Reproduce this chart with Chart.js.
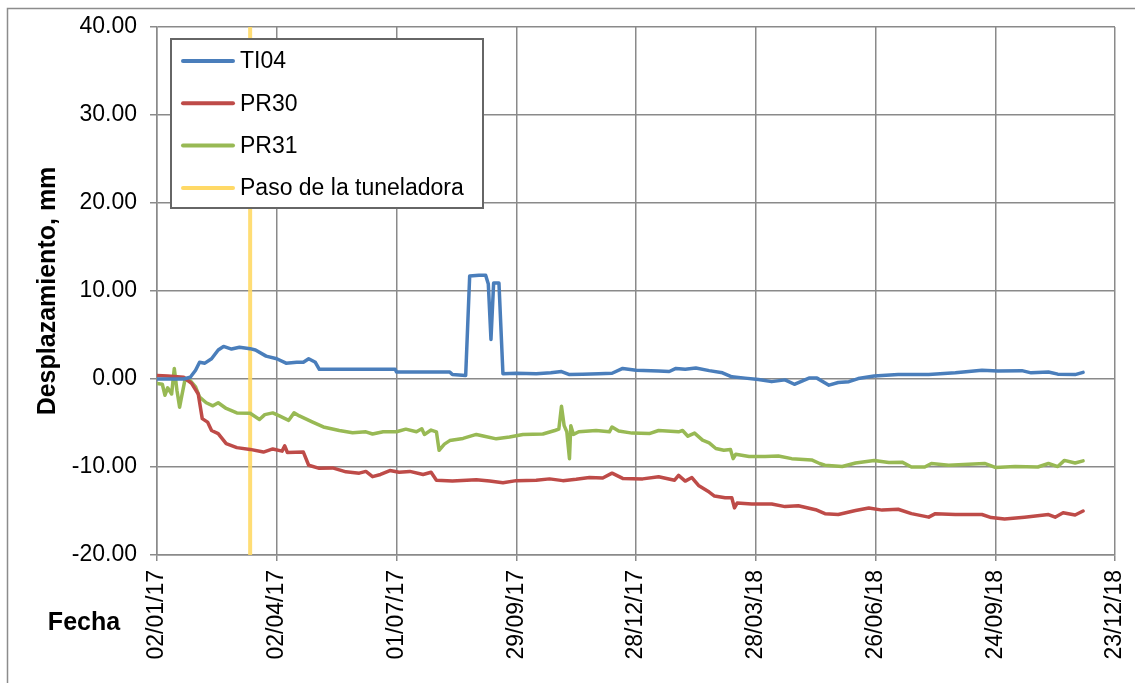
<!DOCTYPE html>
<html>
<head>
<meta charset="utf-8">
<script src="https://cdn.jsdelivr.net/npm/chart.js@4.4.1/dist/chart.umd.min.js"></script>
<style>
  body { margin: 0; background: #fff; overflow: hidden; }
  canvas { display: block; }
</style>
</head>
<body>
<canvas id="dispChart" width="1135" height="683"></canvas>
<script>
// days counted from 02/01/17
const startDate = Date.UTC(2017, 0, 2);
const tickStep = 90;
const tbmDay = 70; // paso de la tuneladora

const ti04Days = [0, 20, 25, 29, 32, 36, 41, 46, 50, 56, 62, 70, 74, 82, 90, 97, 105, 110, 114, 119, 122, 179, 180, 220, 222, 232, 235, 242, 247, 249, 251, 253, 257, 260, 270, 285, 296, 304, 310, 320, 332, 342, 350, 360, 377, 385, 390, 397, 405, 415, 425, 432, 442, 452, 462, 472, 479, 490, 496, 505, 512, 520, 527, 539, 557, 580, 600, 620, 632, 650, 657, 670, 677, 690, 696];
const ti04Vals = [0.0, 0.0, 0.2, 1.0, 1.9, 1.8, 2.3, 3.3, 3.7, 3.4, 3.6, 3.45, 3.3, 2.6, 2.3, 1.8, 1.9, 1.9, 2.3, 1.9, 1.1, 1.1, 0.8, 0.8, 0.5, 0.4, 11.7, 11.8, 11.8, 10.8, 4.5, 10.9, 10.9, 0.6, 0.65, 0.6, 0.7, 0.85, 0.5, 0.55, 0.6, 0.65, 1.2, 1.0, 0.9, 0.85, 1.2, 1.1, 1.25, 0.95, 0.7, 0.25, 0.1, -0.05, -0.3, -0.1, -0.6, 0.1, 0.1, -0.7, -0.4, -0.3, 0.05, 0.35, 0.5, 0.5, 0.7, 1.0, 0.9, 0.95, 0.7, 0.8, 0.55, 0.5, 0.75];

const pr30Days = [0, 8, 20, 26, 31, 34, 38, 41, 46, 52, 60, 70, 80, 87, 94, 96, 98, 110, 114, 122, 132, 142, 152, 157, 162, 168, 175, 182, 190, 200, 206, 210, 222, 240, 250, 260, 270, 285, 295, 305, 315, 325, 335, 342, 350, 365, 377, 389, 392, 397, 402, 407, 415, 419, 427, 432, 434, 436, 447, 462, 472, 482, 495, 502, 512, 525, 535, 545, 557, 567, 580, 585, 600, 620, 627, 637, 652, 670, 675, 681, 690, 696];
const pr30Vals = [0.4, 0.35, 0.2, -0.5, -1.7, -4.5, -4.9, -5.85, -6.2, -7.35, -7.8, -8.0, -8.3, -7.95, -8.2, -7.6, -8.35, -8.3, -9.8, -10.15, -10.1, -10.55, -10.7, -10.5, -11.1, -10.85, -10.4, -10.6, -10.5, -10.85, -10.6, -11.5, -11.6, -11.45, -11.6, -11.8, -11.55, -11.5, -11.35, -11.55, -11.4, -11.2, -11.25, -10.7, -11.3, -11.35, -11.1, -11.5, -10.95, -11.6, -11.2, -12.1, -12.85, -13.3, -13.5, -13.5, -14.65, -14.1, -14.2, -14.2, -14.5, -14.4, -14.85, -15.3, -15.4, -14.95, -14.65, -14.9, -14.8, -15.3, -15.7, -15.3, -15.4, -15.4, -15.75, -15.9, -15.7, -15.4, -15.7, -15.2, -15.45, -15.0];

const pr31Days = [0, 4, 6, 8, 11, 13, 15, 17, 18, 21, 25, 29, 32, 37, 42, 46, 52, 60, 70, 77, 81, 87, 92, 99, 103, 107, 117, 125, 137, 147, 157, 162, 170, 180, 187, 195, 199, 201, 206, 210, 212, 216, 220, 230, 240, 246, 255, 265, 275, 290, 299, 302, 304, 306, 308, 310, 311, 313, 317, 330, 340, 342, 347, 357, 370, 377, 392, 395, 399, 404, 410, 415, 420, 426, 431, 433, 435, 445, 457, 467, 477, 492, 498, 502, 515, 525, 539, 550, 560, 567, 577, 582, 595, 610, 622, 630, 645, 662, 670, 677, 682, 690, 696];
const pr31Vals = [-0.5, -0.6, -1.85, -1.0, -1.7, 1.2, -1.3, -3.2, -2.4, -0.1, -0.2, -0.9, -2.05, -2.7, -3.05, -2.7, -3.35, -3.85, -3.9, -4.6, -4.05, -3.85, -4.2, -4.7, -3.85, -4.2, -4.9, -5.45, -5.85, -6.1, -6.0, -6.25, -6.0, -6.0, -5.7, -6.0, -5.65, -6.3, -5.8, -6.0, -8.1, -7.4, -7.0, -6.75, -6.3, -6.5, -6.8, -6.6, -6.3, -6.25, -5.85, -5.7, -3.1, -5.3, -6.0, -9.05, -5.3, -6.3, -6.0, -5.85, -6.0, -5.45, -5.9, -6.15, -6.2, -5.85, -6.0, -5.85, -6.5, -6.15, -6.95, -7.25, -7.9, -8.1, -8.0, -9.05, -8.55, -8.8, -8.8, -8.75, -9.05, -9.2, -9.6, -9.8, -9.95, -9.55, -9.25, -9.5, -9.45, -10.0, -10.0, -9.6, -9.8, -9.7, -9.6, -10.05, -9.95, -10.0, -9.6, -9.95, -9.25, -9.55, -9.3];

const seriesNames = ['TI04', 'PR30', 'PR31', 'Paso de la tuneladora'];
const seriesColors = ['#4a7ebb', '#be4b48', '#98b954', '#ffd966'];

const FONT = "'Liberation Sans', Arial, sans-serif";
const GRID = '#8a8a8a';

function toPoints(days, vals) {
    return days.map((d, i) => ({ x: d, y: vals[i] }));
}

function fmtDate(d) {
    const dt = new Date(startDate + d * 86400000);
    const dd = String(dt.getUTCDate()).padStart(2, '0');
    const mm = String(dt.getUTCMonth() + 1).padStart(2, '0');
    const yy = String(dt.getUTCFullYear()).slice(2);
    return dd + '/' + mm + '/' + yy;
}

// outer frame + axis titles
const framePlugin = {
    id: 'frame',
    beforeDraw(chart) {
        const c = chart.ctx;
        c.save();
        c.fillStyle = '#fff';
        c.fillRect(0, 0, chart.width, chart.height);
        c.strokeStyle = '#8c8c8c';
        c.lineWidth = 1.5;
        c.beginPath();
        c.moveTo(7.5, chart.height + 5);
        c.lineTo(7.5, 8.5);
        c.lineTo(chart.width + 5, 8.5);
        c.stroke();
        c.restore();
    },
    afterDraw(chart) {
        const c = chart.ctx;
        c.save();
        c.fillStyle = '#000';
        c.font = 'bold 25px ' + FONT;
        c.textAlign = 'center';
        c.textBaseline = 'middle';
        c.fillText('Fecha', 84, 623);
        c.translate(48, 291);
        c.rotate(-Math.PI / 2);
        c.fillText('Desplazamiento, mm', 0, 0);
        c.restore();
    }
};

// legend box inside the plot area
const legendBoxPlugin = {
    id: 'legendBox',
    afterDatasetsDraw(chart) {
        const c = chart.ctx;
        c.save();
        c.fillStyle = '#fff';
        c.fillRect(171, 39, 312, 169);
        c.strokeStyle = '#666';
        c.lineWidth = 2;
        c.strokeRect(171, 39, 312, 169);
        c.font = '23px ' + FONT;
        c.textBaseline = 'middle';
        c.textAlign = 'left';
        seriesNames.forEach((name, i) => {
            const y = 61 + i * 42.3;
            c.strokeStyle = seriesColors[i];
            c.lineWidth = 4;
            c.lineCap = 'round';
            c.beginPath();
            c.moveTo(183, y);
            c.lineTo(233, y);
            c.stroke();
            c.fillStyle = '#000';
            c.fillText(name, 240, y + 1);
        });
        c.restore();
    }
};

const ctx = document.getElementById('dispChart').getContext('2d');
new Chart(ctx, {
    type: 'line',
    data: {
        datasets: [
            { label: seriesNames[0], data: toPoints(ti04Days, ti04Vals), borderColor: seriesColors[0], borderWidth: 3.5 },
            { label: seriesNames[1], data: toPoints(pr30Days, pr30Vals), borderColor: seriesColors[1], borderWidth: 3.5 },
            { label: seriesNames[2], data: toPoints(pr31Days, pr31Vals), borderColor: seriesColors[2], borderWidth: 3.5 },
            { label: seriesNames[3], data: [{ x: tbmDay, y: -20 }, { x: tbmDay, y: 40 }], borderColor: 'rgba(255,217,102,0.9)', borderWidth: 4 }
        ]
    },
    options: {
        responsive: false,
        animation: false,
        events: [],
        elements: { point: { radius: 0 }, line: { tension: 0, borderJoinStyle: 'round', borderCapStyle: 'round' } },
        layout: { padding: { left: 10, right: 20, top: 27, bottom: 0 } },
        plugins: { legend: { display: false }, tooltip: { enabled: false } },
        scales: {
            x: {
                type: 'linear',
                min: 0,
                max: 720,
                afterFit: (s) => { s.height = 128; s.paddingLeft = 0; s.paddingRight = 0; },
                ticks: {
                    stepSize: tickStep,
                    autoSkip: false,
                    maxRotation: 90,
                    minRotation: 90,
                    padding: 9,
                    color: '#000',
                    font: { family: FONT, size: 23 },
                    callback: (v) => fmtDate(v)
                },
                grid: { color: GRID, lineWidth: 1.5, tickLength: 6 },
                border: { color: GRID, width: 1.5 }
            },
            y: {
                min: -20,
                max: 40,
                afterFit: (s) => { s.width = 147; s.paddingTop = 0; s.paddingBottom = 0; },
                ticks: {
                    stepSize: 10,
                    padding: 13,
                    color: '#000',
                    font: { family: FONT, size: 23 },
                    callback: (v) => v.toFixed(2)
                },
                grid: { color: GRID, lineWidth: 1.5, tickLength: 7 },
                border: { color: GRID, width: 1.5 }
            }
        }
    },
    plugins: [framePlugin, legendBoxPlugin]
});
</script>
</body>
</html>
